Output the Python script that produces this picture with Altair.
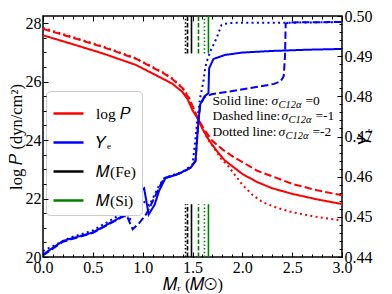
import altair as alt
import pandas as pd

# ---------------- data ----------------
cases = ["solid", "dashed", "dotted"]

logp_x = {
    "solid":  [0.0, 0.275, 0.6, 0.93, 1.2, 1.3, 1.4, 1.45, 1.5, 1.55, 1.6, 1.67, 1.75, 1.825, 2.0, 2.15, 2.3, 2.5, 2.75, 3.0],
    "dashed": [0.0, 0.275, 0.6, 0.93, 1.2, 1.3, 1.4, 1.47, 1.52, 1.55, 1.6, 1.69, 1.8, 1.92, 2.15, 2.5, 2.75, 3.0],
    "dotted": [0.0, 0.275, 0.6, 0.93, 1.2, 1.3, 1.4, 1.47, 1.52, 1.55, 1.65, 1.79, 1.86, 2.0, 2.1, 2.2, 2.35, 2.5, 2.75, 3.0],
}
logp_y = {
    "solid":  [27.58, 27.30, 26.96, 26.57, 26.10, 25.92, 25.64, 25.40, 25.02, 24.74, 24.38, 23.97, 23.60, 23.30, 22.84, 22.56, 22.35, 22.16, 21.97, 21.81],
    "dashed": [27.80, 27.52, 27.18, 26.78, 26.30, 26.08, 25.77, 25.40, 25.00, 24.78, 24.46, 24.00, 23.68, 23.40, 22.95, 22.50, 22.28, 22.11],
    "dotted": [27.83, 27.55, 27.20, 26.80, 26.32, 26.10, 25.79, 25.42, 25.00, 24.76, 24.05, 23.35, 23.10, 22.47, 22.13, 21.88, 21.68, 21.53, 21.37, 21.25],
}

ye_x = {
    "solid":  [0.0, 0.2, 0.5, 0.8, 0.9, 1.0, 1.015, 1.06, 1.12, 1.165, 1.23, 1.33, 1.4, 1.48, 1.53, 1.545, 1.56, 1.577,
               1.62, 1.66, 1.667, 1.69, 1.71, 1.825, 2.0, 2.3, 2.65, 3.0],
    "dashed": [0.0, 0.2, 0.5, 0.8, 0.84, 0.868, 0.90, 0.967, 1.033, 1.10, 1.18, 1.215, 1.30, 1.40, 1.48, 1.53, 1.545,
               1.56, 1.577, 1.62, 1.69, 1.99, 2.32, 2.386, 2.415, 2.428, 2.435, 2.47, 3.0],
    "dotted": [0.0, 0.27, 0.5, 0.75, 0.84, 0.87, 0.934, 0.983, 1.066, 1.12, 1.165, 1.22, 1.3, 1.4, 1.5, 1.528, 1.55,
               1.577, 1.61, 1.627, 1.644, 1.677, 1.74, 1.79, 1.85, 1.92, 2.39, 3.0],
}
ye_y = {
    "solid":  [0.4406, 0.4440, 0.4461, 0.4502, 0.4535, 0.4568, 0.4571, 0.4506, 0.4530, 0.4565, 0.4597, 0.4604, 0.4612,
               0.4622, 0.4638, 0.4690, 0.4739, 0.4780, 0.4800, 0.4808, 0.4870, 0.4882, 0.4893, 0.4903, 0.4909, 0.4913,
               0.4916, 0.4918],
    "dashed": [0.4404, 0.4438, 0.4460, 0.4500, 0.4503, 0.4487, 0.4469, 0.4485, 0.4506, 0.4538, 0.4580, 0.4596, 0.4602,
               0.4611, 0.4622, 0.4640, 0.4690, 0.4739, 0.4778, 0.4798, 0.4805, 0.4817, 0.4831, 0.4838, 0.4850, 0.4900,
               0.4981, 0.4984, 0.4985],
    "dotted": [0.4415, 0.4448, 0.4466, 0.4502, 0.4512, 0.4493, 0.4518, 0.4543, 0.4528, 0.4555, 0.4578, 0.4597, 0.4604,
               0.4612, 0.4630, 0.4690, 0.4745, 0.4797, 0.4838, 0.4870, 0.4887, 0.4911, 0.4944, 0.4977, 0.4982, 0.4983,
               0.4983, 0.4985],
}

fe_mass = {"solid": 1.49, "dashed": 1.45, "dotted": 1.43}
si_mass = {"solid": 1.66, "dashed": 1.56, "dotted": 1.62}
marker_spans = [(20.0, 21.80), (26.96, 28.24)]

kinds = ["log 𝑃", "𝑌ₑ", "𝑀(Fe)", "𝑀(Si)"]
note_labels = ["Solid line:", "Dashed line:", "Dotted line:"]
note_values = ["0", "-1", "-2"]

x_major = [0.0, 0.5, 1.0, 1.5, 2.0, 2.5, 3.0]
x_minor = [round(i * 0.1, 1) for i in range(31) if i % 5]
yl_major = [20, 22, 24, 26, 28]
yl_minor = [20 + 0.5 * i for i in range(17) if i % 4]
yr_major = [0.44, 0.45, 0.46, 0.47, 0.48, 0.49, 0.50]
yr_minor = [round(0.44 + 0.002 * i, 3) for i in range(31) if i % 5]

# ---------------- tables ----------------
rows = []
for c in cases:
    for i, (m, v) in enumerate(zip(logp_x[c], logp_y[c])):
        rows.append({"M": m, "val": v, "case": c, "idx": i, "kind": kinds[0]})
df_red = pd.DataFrame(rows)

rows = []
for c in cases:
    for i, (m, v) in enumerate(zip(ye_x[c], ye_y[c])):
        rows.append({"M": m, "val": v, "case": c, "idx": i, "kind": kinds[1]})
df_blue = pd.DataFrame(rows)

rows = []
for c in cases:
    for kind, masses in ((kinds[2], fe_mass), (kinds[3], si_mass)):
        for lo, hi in marker_spans:
            rows.append({"M": masses[c], "lo": lo, "hi": hi, "case": "m_" + c, "kind": kind})
df_mark = pd.DataFrame(rows)

# ---------------- styling ----------------
FONT = "Liberation Serif"
W, H = 299, 241

xs = alt.Scale(domain=[0, 3], nice=False, zero=False)
yl = alt.Scale(domain=[20, 28.24], nice=False, zero=False)
yr = alt.Scale(domain=[0.44, 0.50], nice=False, zero=False)

color_scale = alt.Scale(domain=kinds, range=["#ff0000", "#0000ff", "#000000", "#008000"])
dash_scale = alt.Scale(
    domain=["solid", "dashed", "dotted", "m_solid", "m_dashed", "m_dotted"],
    range=[[1, 0], [7.4, 3.2], [2, 3.3], [1, 0], [4.5, 2], [1.5, 2.2]],
)

legend = alt.Legend(
    title=None, orient="none", legendX=3, legendY=75, fillColor="white", strokeColor="#cccccc",
    cornerRadius=4, padding=6, labelFont=FONT, labelFontSize=15.5, labelColor="black",
    symbolType="stroke", symbolSize=900, symbolStrokeWidth=2.5, labelOffset=11, rowPadding=4,
)

label_kw = dict(labels=True, labelFont=FONT, labelFontSize=16, labelColor="black",
                labelFlush=False, labelOverlap=False, labelPadding=2)
title_kw = dict(titleFont=FONT, titleFontSize=16.5, titleFontWeight="normal", titleColor="black",
                titlePadding=1)


def ax(orient, values, size, **kw):
    base = dict(orient=orient, values=values, tickSize=size, offset=-size, domain=False, grid=False,
                tickColor="black", tickWidth=1, labels=False, title=None, zindex=1)
    base.update(kw)
    return alt.Axis(**base)


red = alt.Chart(df_red).mark_line(strokeWidth=2).encode(
    x=alt.X("M:Q", scale=xs, axis=ax("bottom", x_major, 5, format=".1f", title="𝑀ᵣ (𝑀⊙)", **label_kw, **title_kw)),
    y=alt.Y("val:Q", scale=yl, axis=ax("left", yl_major, 5, format="d", title="log 𝑃 (dyn/cm²)", **label_kw, **title_kw)),
    color=alt.Color("kind:N", scale=color_scale, legend=legend),
    strokeDash=alt.StrokeDash("case:N", scale=dash_scale, legend=None),
    order="idx:Q",
)

blue = alt.Chart(df_blue).mark_line(strokeWidth=2).encode(
    x=alt.X("M:Q", scale=xs, axis=ax("top", x_major, 5)),
    y=alt.Y("val:Q", scale=yr, axis=ax("right", yr_major, 5, format=".2f", title="𝑌ₑ", titleAngle=270, **label_kw, **title_kw)),
    color=alt.Color("kind:N", scale=color_scale, legend=legend),
    strokeDash=alt.StrokeDash("case:N", scale=dash_scale, legend=None),
    order="idx:Q",
)

marks = alt.Chart(df_mark).mark_rule(strokeWidth=1.6).encode(
    x=alt.X("M:Q", scale=xs, axis=ax("bottom", x_minor, 3)),
    y=alt.Y("lo:Q", scale=yl, axis=ax("left", yl_minor, 3)),
    y2="hi:Q",
    color=alt.Color("kind:N", scale=color_scale, legend=legend),
    strokeDash=alt.StrokeDash("case:N", scale=dash_scale, legend=None),
)

ghost = alt.Chart(pd.DataFrame({"M": [0.0], "val": [0.44]})).mark_point(opacity=0).encode(
    x=alt.X("M:Q", scale=xs, axis=ax("top", x_minor, 3)),
    y=alt.Y("val:Q", scale=yr, axis=ax("right", yr_minor, 3)),
)

# annotation text (three rows, each built of pieces)
NOTE_X = 1.7
NOTE_Y = [25.20, 24.68, 24.15]
SIGMA_DX = [59, 69, 66]
texts = []
for i in range(3):
    d = pd.DataFrame({"x": [NOTE_X], "y": [NOTE_Y[i]], "lab": [note_labels[i]],
                      "sig": ["σ"], "sub": ["C12α"], "eq": ["=" + note_values[i]]})
    base = alt.Chart(d)
    enc = dict(x=alt.X("x:Q", scale=xs, axis=None), y=alt.Y("y:Q", scale=yl, axis=None))
    texts.append(base.mark_text(align="left", baseline="alphabetic", font=FONT, fontSize=13.5, color="black")
                 .encode(text="lab:N", **enc))
    texts.append(base.mark_text(align="left", baseline="alphabetic", font=FONT, fontSize=13.5, fontStyle="italic",
                                color="black", dx=SIGMA_DX[i]).encode(text="sig:N", **enc))
    texts.append(base.mark_text(align="left", baseline="alphabetic", font=FONT, fontSize=10.5, fontStyle="italic",
                                color="black", dx=SIGMA_DX[i] + 7, dy=3).encode(text="sub:N", **enc))
    texts.append(base.mark_text(align="left", baseline="alphabetic", font=FONT, fontSize=13.5, color="black",
                                dx=SIGMA_DX[i] + 34).encode(text="eq:N", **enc))

chart = alt.layer(red, blue, marks, ghost, *texts).resolve_scale(
    y="independent"
).resolve_axis(x="independent", y="independent").properties(
    width=W, height=H, padding={"left": 0, "top": 0, "right": 0, "bottom": 0}
).configure_view(stroke="black", strokeWidth=1.5)

chart.save("out.html", embed_options={"renderer": "svg", "actions": False})
